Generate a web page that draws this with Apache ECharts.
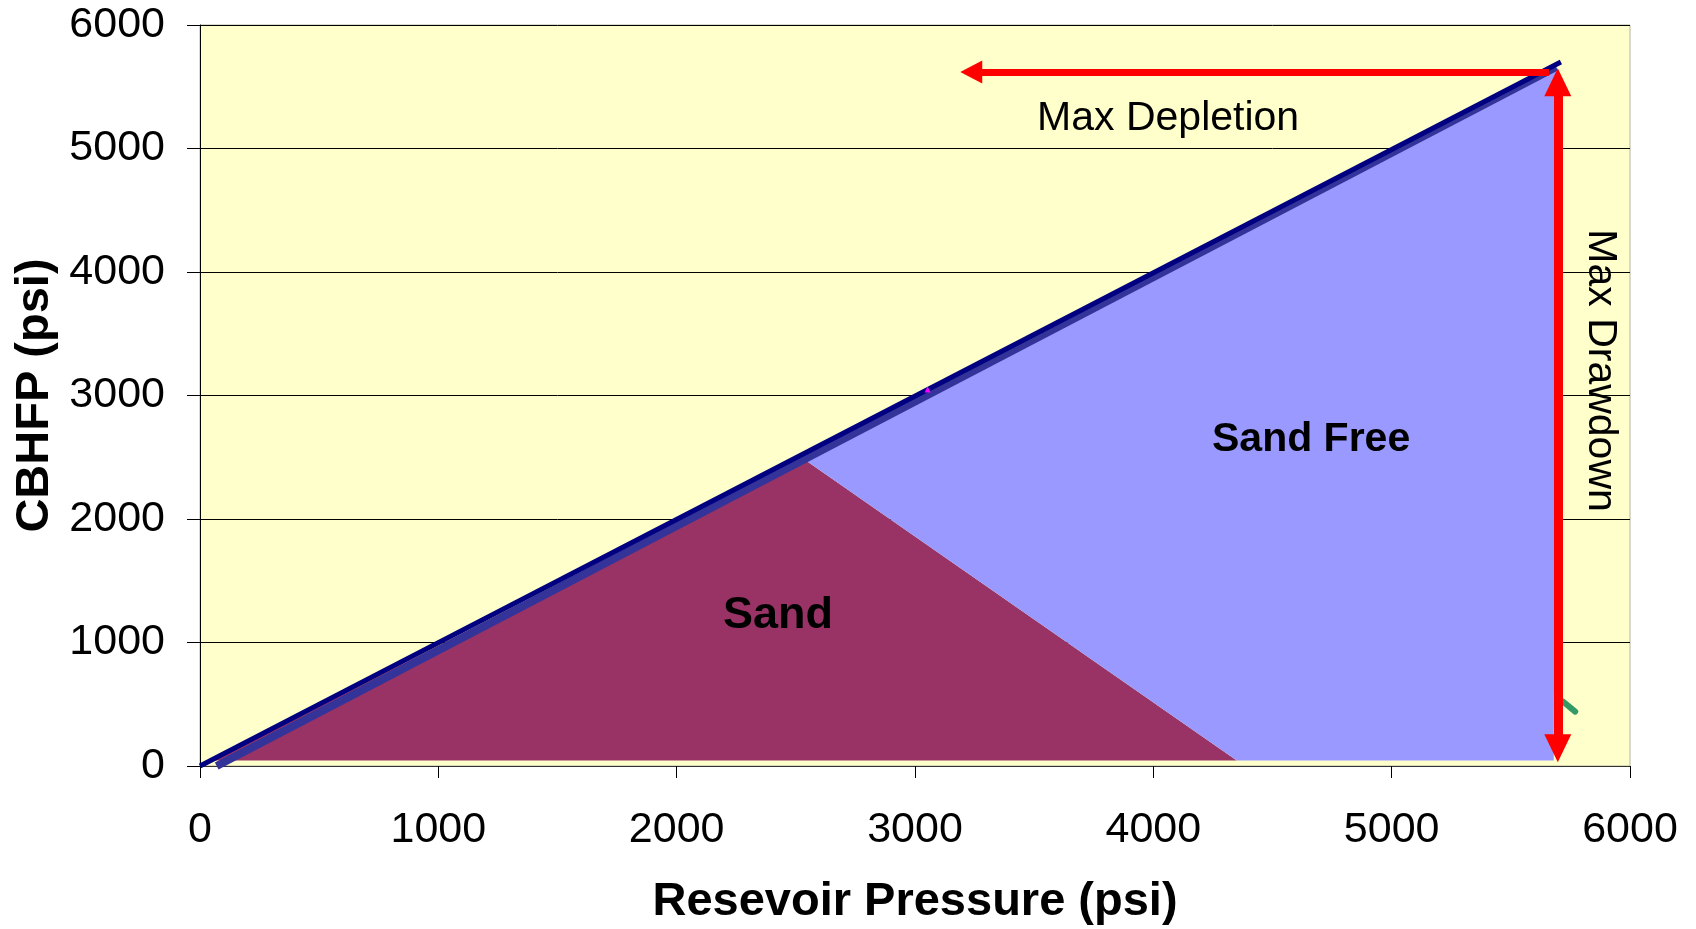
<!DOCTYPE html>
<html>
<head>
<meta charset="utf-8">
<title>Sand Free envelope</title>
<script src="https://cdn.jsdelivr.net/npm/echarts@6/dist/echarts.min.js"></script>
<style>
  html, body { margin: 0; padding: 0; background: #fff; }
  #chart { width: 1696px; height: 929px; }
</style>
</head>
<body>
<div id="chart"></div>
<script>
// axis ticks
const xTicks = [0, 1000, 2000, 3000, 4000, 5000, 6000];
const yTicks = [0, 1000, 2000, 3000, 4000, 5000, 6000];

// diagonal CBHFP = reservoir pressure lines
const diagTop = [[0, 0], [5710, 5700]];
const diagLow = [[70, 0], [5690, 5660]];

// shaded regions (reservoir pressure, CBHFP)
const sandPts = [[60, 45], [2530, 2490], [4350, 45]];
const sandFreePts = [[2530, 2490], [5690, 5660], [5680, 45], [4350, 45]];

// arrows
const depletionArrow = [[5660, 5620], [3236, 5620]];
const drawdownArrow = [[5697, 143], [5697, 5537]];

// small stray marks
const greenTick = [[5720, 520], [5770, 440]];
const pinkMark = [[3053, 3048]];

const font = '"Liberation Sans", Arial, sans-serif';

const chart = echarts.init(document.getElementById('chart'));

const polygon = (pts, fill) => ({
  type: 'custom',
  silent: true,
  z: 1,
  data: [0],
  renderItem: (params, api) => ({
    type: 'polygon',
    shape: { points: pts.map((p) => api.coord(p)) },
    style: { fill: fill },
  }),
});

const annot = (x, y, text, size, weight, rotate) => ({
  value: [x, y],
  label: {
    show: true,
    position: 'inside',
    formatter: text,
    fontSize: size,
    fontWeight: weight,
    fontFamily: font,
    color: '#000',
    opacity: 1,
    textBorderWidth: 0,
    textBorderColor: 'transparent',
    rotate: rotate || 0,
  },
});

chart.setOption({
  animation: false,
  grid: {
    left: 200,
    right: 66,
    top: 25,
    bottom: 163,
    outerBoundsMode: 'none',
    containLabel: false,
    show: true,
    backgroundColor: '#FFFFCC',
    borderColor: '#b4b4a0',
    borderWidth: 1,
  },
  xAxis: {
    type: 'value',
    min: xTicks[0],
    max: xTicks[xTicks.length - 1],
    interval: 1000,
    name: 'Resevoir Pressure (psi)',
    nameLocation: 'middle',
    nameGap: 113,
    nameTextStyle: { fontSize: 47, fontWeight: 'bold', fontFamily: font, color: '#000' },
    axisLine: { lineStyle: { color: '#333', width: 1 } },
    axisTick: { show: true, length: 12, lineStyle: { color: '#000' } },
    axisLabel: { fontSize: 43, fontFamily: font, color: '#000', margin: 43, formatter: (v) => String(v) },
    splitLine: { show: false },
  },
  yAxis: {
    type: 'value',
    min: yTicks[0],
    max: yTicks[yTicks.length - 1],
    interval: 1000,
    name: 'CBHFP (psi)',
    nameLocation: 'middle',
    nameGap: 137,
    nameRotate: 90,
    nameTextStyle: { fontSize: 47, fontWeight: 'bold', fontFamily: font, color: '#000' },
    axisLine: { show: true, lineStyle: { color: '#000', width: 1 } },
    axisTick: { show: true, length: 13, lineStyle: { color: '#000' } },
    axisLabel: { fontSize: 43, fontFamily: font, color: '#000', margin: 35, formatter: (v) => String(v) },
    splitLine: { show: true, lineStyle: { color: '#000', width: 1 } },
  },
  series: [
    polygon(sandPts, '#993366'),
    polygon(sandFreePts, '#9999FF'),
    {
      type: 'line',
      data: diagLow,
      symbol: 'none',
      z: 3,
      lineStyle: { color: '#333399', width: 8 },
    },
    {
      type: 'line',
      data: diagTop,
      symbol: 'none',
      z: 4,
      lineStyle: { color: '#000080', width: 5 },
    },
    {
      type: 'line',
      data: greenTick,
      symbol: 'none',
      z: 3,
      lineStyle: { color: '#339966', width: 6, cap: 'round' },
    },
    {
      type: 'scatter',
      data: pinkMark,
      symbol: 'triangle',
      symbolSize: 6,
      z: 5,
      itemStyle: { color: '#FF00FF', opacity: 1 },
      // arrows drawn as mark lines in data space
      markLine: {
        silent: true,
        animation: false,
        label: { show: false },
        data: [
          [
            { coord: depletionArrow[0], symbol: 'none', lineStyle: { color: '#FF0000', width: 7, type: 'solid' } },
            { coord: depletionArrow[1], symbol: 'triangle', symbolSize: [23, 22] },
          ],
          [
            { coord: drawdownArrow[0], symbol: 'triangle', symbolSize: [27, 28], lineStyle: { color: '#FF0000', width: 9, type: 'solid' } },
            { coord: drawdownArrow[1], symbol: 'triangle', symbolSize: [27, 28] },
          ],
        ],
        itemStyle: { color: '#FF0000' },
        lineStyle: { color: '#FF0000', type: 'solid', opacity: 1 },
      },
    },
    {
      type: 'scatter',
      symbolSize: 0,
      silent: true,
      z: 6,
      itemStyle: { opacity: 1 },
      data: [
        annot(4062, 5245, 'Max Depletion', 41, 'normal'),
        annot(5874, 3202, 'Max Drawdown', 41, 'normal', -90),
        annot(4662, 2640, 'Sand Free', 41, 'bold'),
        annot(2425, 1220, 'Sand', 45, 'bold'),
      ],
    },
  ],
});

window.addEventListener('resize', () => {
  chart.resize();
});
</script>
</body>
</html>
